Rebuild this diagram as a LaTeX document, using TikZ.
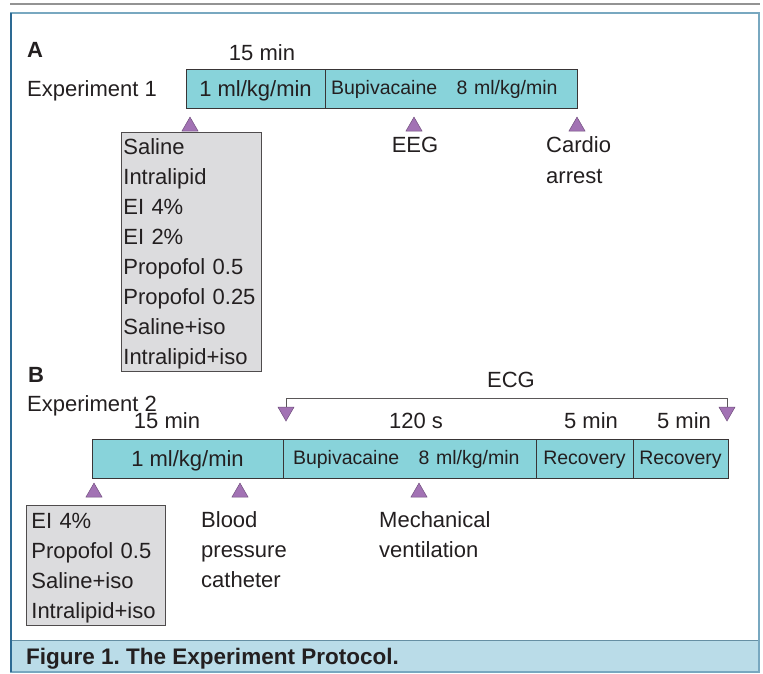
\documentclass[tikz,border=0pt]{standalone}
\usepackage{fontspec}
\setmainfont{Liberation Sans}
\usetikzlibrary{shapes.geometric}
\frenchspacing

\definecolor{barcyan}{HTML}{88D3DA}
\definecolor{boxgray}{HTML}{DCDCDE}
\definecolor{markpurple}{HTML}{A272B4}
\definecolor{inkgray}{HTML}{231F20}
\definecolor{framedark}{HTML}{2D6A93}
\definecolor{framelight}{HTML}{78A8C0}
\definecolor{captionblue}{HTML}{BADCE8}

\begin{document}
\begin{tikzpicture}[x=1pt,y=-1pt,
  txt/.style={font=\fontsize{22}{30}\selectfont, text=inkgray, inner sep=0},
  seg/.style={txt, draw=inkgray!90, line width=0.8pt, fill=barcyan, minimum height=39pt,
    outer sep=0, anchor=north west, text height=19pt, text depth=4pt},
  segsmall/.style={font=\fontsize{19.5}{24}\selectfont, text height=15pt, text depth=4pt},
  trup/.style={regular polygon, regular polygon sides=3, minimum size=18.6pt, inner sep=0,
    fill=markpurple, draw=markpurple!70!black, line width=0.5pt},
  trdown/.style={trup, shape border rotate=180},
  listbox/.style={txt, draw=inkgray!80, line width=0.8pt, fill=boxgray, anchor=north west,
    align=left, inner xsep=2pt, inner ysep=0pt},
  bracket/.style={draw=inkgray!75, line width=0.9pt}
]
\useasboundingbox (0,0) rectangle (763,673);

% frame
\draw[line width=2.5pt, gray!85] (10,4) -- (760,4);
\fill[captionblue] (10,640) rectangle (759,672);
\draw[framelight!85!black, line width=1pt] (10,640) -- (759,640);
\draw[framelight, line width=2pt] (10,13) -- (759,13) -- (759,672) -- (10,672);
\draw[framedark, line width=2pt] (11,13) -- (11,672);
\node[font=\fontsize{22.5}{26}\selectfont\bfseries, text=inkgray, inner sep=0, anchor=base west]
  (caption) at (26,664) {Figure 1. The Experiment Protocol.};

%%% experiment 1
\node[txt, font=\fontsize{22}{26}\selectfont\bfseries, anchor=base west] (labA) at (27,57) {A};
\node[txt, anchor=base west] (exp1) at (27,96) {Experiment 1};
\node[txt, anchor=base] (dur1) at (262,60) {15 min};

\node[seg, minimum width=139pt] (inf1) at (186,69) {1 ml/kg/min};
\node[seg, segsmall, text width=240pt, align=left, inner xsep=6pt] (bup1) at (inf1.north east)
  {Bupivacaine\quad 8 ml/kg/min};

% markers
\node[trup] (start1) at (190,126.4) {};
\node[trup] (eegmark) at (414,126.4) {};
\node[trup] (arrestmark) at (577,126.4) {};

\node[listbox, minimum height=239pt, text width=136pt] (agents1) at (121,132)
  {\rule{0pt}{19pt}Saline\\Intralipid\\EI 4\%\\EI 2\%\\Propofol 0.5\\Propofol 0.25\\Saline+iso\\Intralipid+iso};
\node[txt, anchor=base] (eeg) at (415,152) {EEG};
\node[txt, anchor=north west, align=left, font=\fontsize{22}{31.5}\selectfont] (arrest) at (546,136) {Cardio\\arrest};

%%% experiment 2
\node[txt, font=\fontsize{22}{26}\selectfont\bfseries, anchor=base west] (labB) at (28,382) {B};
\node[txt, anchor=base west] (exp2) at (27,411) {Experiment 2};

% ECG recording
\node[trdown] (ecgL) at (286,411.7) {};
\node[trdown] (ecgR) at (727,411.7) {};
\draw[bracket] (ecgL.north) -- ++(0,-8) -| (ecgR.north);
\node[txt, anchor=base] (ecg) at (511,387) {ECG};

\node[txt, anchor=base] (dur2) at (167,428) {15 min};
\node[txt, anchor=base] (dur3) at (416,428) {120 s};
\node[txt, anchor=base] (dur4) at (591,428) {5 min};
\node[txt, anchor=base] (dur5) at (684,428) {5 min};

\node[seg, minimum width=191pt] (inf2) at (92,439) {1 ml/kg/min};
\node[seg, segsmall, text width=233pt, align=left, inner xsep=10pt] (bup2) at (inf2.north east)
  {Bupivacaine\quad 8 ml/kg/min};
\node[seg, segsmall, minimum width=97pt] (rec1) at (bup2.north east) {Recovery};
\node[seg, segsmall, minimum width=95pt] (rec2) at (rec1.north east) {Recovery};

% markers
\node[trup] (start2) at (94,492.4) {};
\node[trup] (bpmark) at (240,492.4) {};
\node[trup] (ventmark) at (419,492.4) {};

\node[listbox, minimum height=120pt, text width=129pt, inner xsep=5pt] (agents2) at (26,505)
  {\rule{0pt}{21pt}EI 4\%\\Propofol 0.5\\Saline+iso\\Intralipid+iso};
\node[txt, anchor=north west, align=left] (bp) at (201,511) {Blood\\pressure\\catheter};
\node[txt, anchor=north west, align=left] (vent) at (379,511) {Mechanical\\ventilation};

\end{tikzpicture}
\end{document}
